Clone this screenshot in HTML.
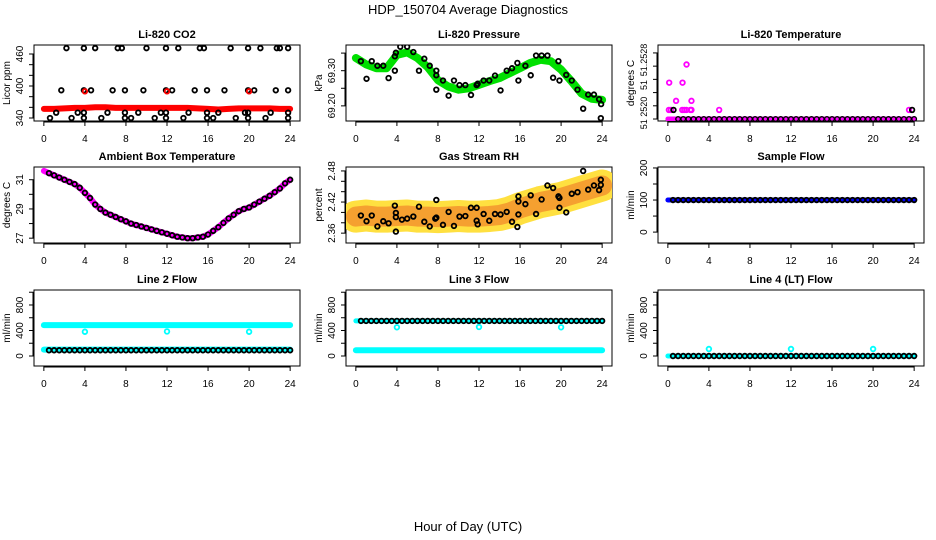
<!DOCTYPE html>
<html><head><meta charset="utf-8"><style>
html,body{margin:0;padding:0;background:#fff;}
svg{display:block;font-family:"Liberation Sans",sans-serif;}
</style></head><body>
<svg id="chart" width="936" height="540" viewBox="0 0 936 540">
<text x="468" y="14" text-anchor="middle" font-size="13">HDP_150704  Average Diagnostics</text>
<text x="468" y="531" text-anchor="middle" font-size="13">Hour of Day (UTC)</text>
</svg>
<script>
// ---------- data ----------
const xTicks = [0,4,8,12,16,20,24];
const halfHours = [0.5,1,1.5,2,2.5,3,3.5,4,4.5,5,5.5,6,6.5,7,7.5,8,8.5,9,9.5,10,10.5,11,11.5,12,12.5,13,13.5,14,14.5,15,15.5,16,16.5,17,17.5,18,18.5,19,19.5,20,20.5,21,21.5,22,22.5,23,23.5,24];
const hourly = [0,1,2,3,4,5,6,7,8,9,10,11,12,13,14,15,16,17,18,19,20,21,22,23,24];

// CO2
const co2Band = [357,357,358,359,359,360,360,359,359,359,359,359,359,359,359,358,357,356,357,358,358,358,358,357,357];
const co2Hours = [2.2,3.9,5.0,7.2,7.6,10.0,11.9,13.1,15.2,15.6,18.2,19.9,21.1,22.7,23.0,23.8,
 1.7,3.9,4.6,6.7,7.9,9.7,11.9,12.5,14.7,15.9,17.6,19.9,20.5,22.6,23.8,
 1.2,3.3,3.9,6.2,7.9,9.2,11.4,11.9,14.1,15.9,17.0,19.6,19.9,22.1,23.8,
 0.6,2.7,3.9,5.6,7.9,8.5,10.8,11.9,13.6,15.9,16.5,18.7,19.9,21.6,23.8];
const co2Vals = [471,471,471,471,471,471,471,471,471,471,471,471,471,471,471,471,
 392,392,392,392,392,392,392,392,392,392,392,392,392,392,392,
 350,350,350,350,350,350,350,350,350,350,350,350,350,350,350,
 340,340,340,340,340,340,340,340,340,340,340,340,340,340,340];
const co2RedHours = [4,12,20];
const co2RedVals = [390,390,390];

// Pressure
const presBand = [69.336,69.318,69.307,69.307,69.345,69.352,69.336,69.31,69.273,69.255,69.246,69.25,69.26,69.27,69.279,69.293,69.307,69.322,69.331,69.327,69.303,69.27,69.235,69.22,69.217];
const presHours = [0.49,1.04,1.55,2.1,2.67,3.19,3.8,3.9,3.8,4.33,5.0,5.6,6.15,6.67,7.2,7.84,7.84,7.84,8.49,9.04,9.56,10.1,10.67,11.22,11.77,11.87,12.45,13.0,13.56,14.1,14.7,15.22,15.74,15.84,16.52,17.04,17.56,18.1,18.67,19.22,19.74,19.84,20.5,21.04,21.6,22.15,22.64,23.2,23.7,23.9,23.87];
const presVals = [69.327,69.277,69.327,69.314,69.314,69.279,69.341,69.351,69.300,69.368,69.368,69.353,69.300,69.334,69.314,69.300,69.246,69.287,69.272,69.229,69.272,69.259,69.259,69.231,69.259,69.263,69.272,69.272,69.286,69.244,69.300,69.307,69.322,69.272,69.314,69.287,69.343,69.343,69.343,69.280,69.327,69.272,69.288,69.272,69.246,69.192,69.232,69.232,69.219,69.205,69.165];

// Li-820 temperature
const tBaseHours = [0,24];
const tBaseVals = [51.2520,51.2520];
const tMagHours = [0.13,0.8,1.43,1.82,2.3,0.1,0.3,1.4,1.6,1.8,2.2,2.3,5.0,23.5];
const tMagVals = [51.25244,51.25222,51.25244,51.25266,51.25222,51.25211,51.25211,51.25211,51.25211,51.25211,51.25211,51.25211,51.25211,51.25211];
const tBlkHours = [0.55,23.8];
const tBlkVals = [51.25211,51.25211];
const tBlkBase = 51.2520;

// Ambient
const ambHours = [0,0.5,1,1.5,2,2.5,3,3.5,4,4.5,5,5.5,6,6.5,7,7.5,8,8.5,9,9.5,10,10.5,11,11.5,12,12.5,13,13.5,14,14.5,15,15.5,16,16.5,17,17.5,18,18.5,19,19.5,20,20.5,21,21.5,22,22.5,23,23.5,24];
const ambVals = [31.6,31.45,31.3,31.15,31.0,30.85,30.7,30.45,30.1,29.75,29.3,29.0,28.75,28.6,28.45,28.3,28.15,28.0,27.9,27.8,27.7,27.6,27.5,27.4,27.3,27.2,27.1,27.05,27.0,27.0,27.05,27.1,27.25,27.5,27.75,28.05,28.35,28.6,28.85,29.0,29.1,29.3,29.5,29.7,29.9,30.15,30.4,30.75,31.0];

// RH
const rhBand = [2.392,2.394,2.392,2.392,2.393,2.394,2.392,2.392,2.391,2.392,2.393,2.392,2.392,2.393,2.395,2.400,2.408,2.414,2.420,2.424,2.428,2.434,2.440,2.446,2.452];
const rhHours = [0.49,1.04,1.55,2.1,2.67,3.19,3.8,3.9,3.9,3.9,4.49,5.0,5.6,6.15,6.67,7.2,7.74,7.84,7.84,8.49,9.04,9.56,10.1,10.67,11.22,11.77,11.77,11.87,12.45,13.0,13.56,14.1,14.7,15.22,15.74,15.84,15.84,15.84,16.52,17.04,17.56,18.1,18.67,19.22,19.74,19.84,19.84,20.5,21.04,21.6,22.15,22.64,23.2,23.7,23.87,23.87];
const rhVals = [2.394,2.383,2.394,2.373,2.383,2.379,2.413,2.399,2.391,2.363,2.386,2.388,2.392,2.411,2.382,2.373,2.388,2.390,2.424,2.376,2.401,2.374,2.392,2.393,2.409,2.409,2.384,2.377,2.397,2.384,2.397,2.396,2.401,2.382,2.372,2.396,2.421,2.431,2.416,2.433,2.397,2.425,2.452,2.447,2.431,2.428,2.409,2.400,2.436,2.439,2.480,2.444,2.452,2.443,2.453,2.463];

// Flows (level of each constant series)
const sampleFlowBlack = 100, sampleFlowBlue = 100;
const line2Black = 90, line2CyanLow = 100, line2CyanHigh = 484;
const line2SpikeHours = [4,12,20], line2SpikeVals = [380,385,380];
const line3Black = 550, line3CyanLow = 90;
const line3SpikeHours = [4,12,20], line3SpikeVals = [450,455,450];
const line4Black = 0;
const line4SpikeHours = [4,12,20], line4SpikeVals = [110,110,110];

// ---------- drawing ----------
const NS = 'http://www.w3.org/2000/svg';
const svg = document.getElementById('chart');
const colX = [34,346,658];
const rowY = [45,167,290];
const PW = 266, PH = 76;
const XD = [-0.96,24.96];

function mk(tag, attrs, parent){
  const e = document.createElementNS(NS, tag);
  for (const k in attrs) e.setAttribute(k, attrs[k]);
  (parent||svg).appendChild(e);
  return e;
}

function panel(c, r, title, ylab, yd, yTickVals, yLabs){
  const x0 = colX[c], y0 = rowY[r];
  const g = mk('g', {});
  
  
  const sx = v => x0 + (v - XD[0]) / (XD[1] - XD[0]) * PW;
  const sy = v => y0 + PH - (v - yd[0]) / (yd[1] - yd[0]) * PH;
  const t = mk('text', {x: x0 + PW/2, y: y0 - 7, 'text-anchor':'middle', 'font-size':11, 'font-weight':'bold'}, g);
  t.textContent = title;
  
  
  const box = mk('rect', {x:x0, y:y0, width:PW, height:PH, fill:'none', stroke:'#000', 'stroke-width':1}, g);
  
  
  const xa = mk('g', {}, g);
  
  
  mk('line', {x1:sx(xTicks[0]), x2:sx(xTicks[xTicks.length-1]), y1:y0+PH+1, y2:y0+PH+1, stroke:'#000'}, xa);
  xTicks.forEach(v => {
    mk('line', {x1:sx(v), x2:sx(v), y1:y0+PH, y2:y0+PH+5, stroke:'#000'}, xa);
    const tl = mk('text', {x:sx(v), y:y0+PH+21, 'text-anchor':'middle', 'font-size':10}, xa);
    tl.textContent = v;
    
    
  });
  const ya = mk('g', {}, g);
  
  
  mk('line', {x1:x0-1, x2:x0-1, y1:sy(yTickVals[0]), y2:sy(yTickVals[yTickVals.length-1]), stroke:'#000'}, ya);
  yTickVals.forEach(v => mk('line', {x1:x0-5, x2:x0, y1:sy(v), y2:sy(v), stroke:'#000'}, ya));
  yLabs.forEach(l => {
    const yy = l.pos !== undefined ? l.pos : sy(l.v);
    const tl = mk('text', {x:0, y:0, 'text-anchor':'middle', 'font-size':l.fs||10, transform:`translate(${x0-11},${yy}) rotate(-90)`}, ya);
    tl.textContent = l.t;
    
    
  });
  const yl = mk('text', {x:0, y:0, 'text-anchor':'middle', 'font-size':10, transform:`translate(${x0-24},${y0+PH/2}) rotate(-90)`}, g);
  yl.textContent = ylab;
  
  
  const clip = 'clip' + c + r;
  const cp = mk('clipPath', {id: clip}, g);
  mk('rect', {x:x0, y:y0, width:PW, height:PH}, cp);
  const plot = mk('g', {'clip-path': `url(#${clip})`}, g);
  
  
  return {sx, sy, plot};
}

function band(p, xs, ys, color, w, name, op){
  const pts = xs.map((x,i) => p.sx(x).toFixed(1) + ',' + p.sy(ys[i]).toFixed(1)).join(' ');
  const pl = mk('polyline', {points: pts, fill:'none', stroke:color, 'stroke-width':w, 'stroke-linejoin':'round', 'stroke-linecap':'round', 'stroke-opacity':op||1}, p.plot);
  
  
}
function dots(p, xs, ys, color, name, sw){
  const g = mk('g', {}, p.plot);
  
  
  xs.forEach((x,i) => {
    mk('circle', {cx:p.sx(x), cy:p.sy(ys[i]), r:2.3, fill:'none', stroke:color, 'stroke-width':sw||1.8}, g);
  });
}
const flat = (hs, v) => hs.map(() => v);

// Row 1
let p = panel(0,0,'Li-820 CO2','Licor ppm',[334.4,476.9],[340,360,380,400,420,440,460],[{v:340,t:'340'},{v:400,t:'400'},{v:460,t:'460'}]);
band(p, hourly, co2Band, '#ff0000', 6, 'co2-band');
dots(p, co2Hours, co2Vals, '#000', 'co2-points');
dots(p, co2RedHours, co2RedVals, '#ff0000', 'co2-red-points');

p = panel(1,0,'Li-820 Pressure','kPa',[69.157,69.373],[69.20,69.25,69.30,69.35],[{v:69.20,t:'69.20'},{v:69.30,t:'69.30'}]);
band(p, hourly, presBand, '#00e000', 8, 'pressure-band');
dots(p, presHours, presVals, '#000', 'pressure-points');

p = panel(2,0,'Li-820 Temperature','degrees C',[51.251976,51.252896],[51.2520,51.25216,51.25232,51.25248,51.25264,51.2528],[{pos:113,t:'51 2520',fs:9},{pos:85,t:'51',fs:9},{pos:60,t:'51.2528',fs:9}]);
band(p, tBaseHours, tBaseVals, '#ff00ff', 5, 'li820-temp-band');
dots(p, halfHours.slice(1), flat(halfHours.slice(1), tBlkBase), '#000', 'li820-temp-points', 1.4);
dots(p, tMagHours, tMagVals, '#ff00ff', 'li820-temp-magenta-points');
dots(p, tBlkHours, tBlkVals, '#000', 'li820-temp-black-points');

// Row 2
p = panel(0,1,'Ambient Box Temperature','degrees C',[26.67,31.87],[27,28,29,30,31],[{v:27,t:'27'},{v:29,t:'29'},{v:31,t:'31'}]);
band(p, ambHours, ambVals, '#ff00ff', 6, 'ambient-band');
dots(p, ambHours.slice(1), ambVals.slice(1), '#000', 'ambient-points');

p = panel(1,1,'Gas Stream RH','percent',[2.341,2.4876],[2.36,2.38,2.40,2.42,2.44,2.46,2.48],[{v:2.36,t:'2.36'},{v:2.42,t:'2.42'},{v:2.48,t:'2.48'}]);
band(p, hourly, rhBand, '#ffe040', 32, 'rh-band');
band(p, hourly, rhBand, '#f5a030', 20, 'rh-band-core');
dots(p, rhHours, rhVals, '#000', 'rh-points');

p = panel(2,1,'Sample Flow','ml/min',[-34,203],[0,50,100,150,200],[{v:0,t:'0'},{v:100,t:'100'},{v:200,t:'200'}]);
band(p, [0,24], [sampleFlowBlue,sampleFlowBlue], '#0000ff', 5, 'sample-flow-band');
dots(p, halfHours, flat(halfHours, sampleFlowBlack), '#000', 'sample-flow-points');

// Row 3
const flowTicks = [0,200,400,600,800,1000];
const flowLabs = [{v:0,t:'0'},{v:400,t:'400'},{v:800,t:'800'}];
p = panel(0,2,'Line 2 Flow','ml/min',[-157,1035],flowTicks,flowLabs);
band(p, [0,24], [line2CyanHigh,line2CyanHigh], '#00ffff', 6, 'line2-cyan-high');
band(p, [0,24], [line2CyanLow,line2CyanLow], '#00ffff', 6, 'line2-cyan-low');
dots(p, halfHours, flat(halfHours, line2Black), '#000', 'line2-points');
dots(p, line2SpikeHours, line2SpikeVals, '#00ffff', 'line2-cyan-points');

p = panel(1,2,'Line 3 Flow','ml/min',[-157,1035],flowTicks,flowLabs);
band(p, [0,24], [line3Black,line3Black], '#00ffff', 5, 'line3-cyan-high');
band(p, [0,24], [line3CyanLow,line3CyanLow], '#00ffff', 6, 'line3-cyan-low');
dots(p, halfHours, flat(halfHours, line3Black), '#000', 'line3-points');
dots(p, line3SpikeHours, line3SpikeVals, '#00ffff', 'line3-cyan-points');

p = panel(2,2,'Line 4 (LT) Flow','ml/min',[-157,1035],flowTicks,flowLabs);
band(p, [0,24], [line4Black,line4Black], '#00ffff', 5, 'line4-cyan-band');
dots(p, halfHours, flat(halfHours, line4Black), '#000', 'line4-points');
dots(p, line4SpikeHours, line4SpikeVals, '#00ffff', 'line4-cyan-points');
</script>
</body></html>
